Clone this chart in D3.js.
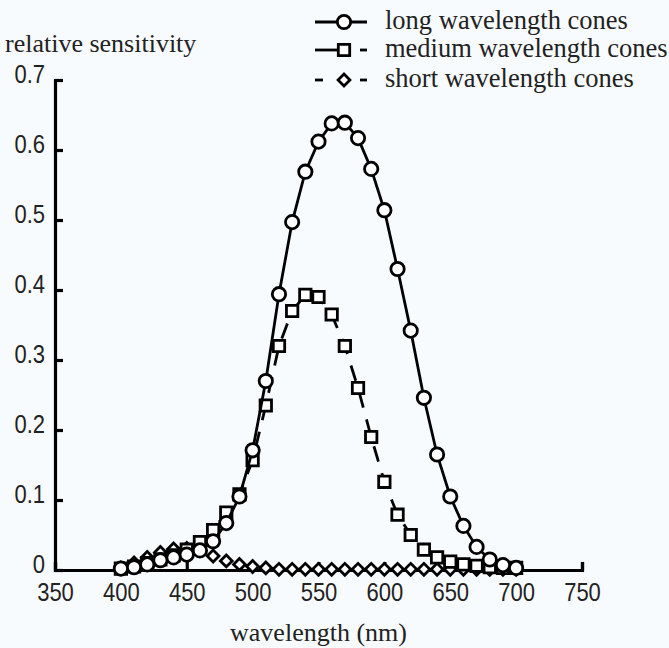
<!DOCTYPE html>
<html>
<head>
<meta charset="utf-8">
<script src="https://cdn.jsdelivr.net/npm/d3@7"></script>
<style>
  body { margin: 0; background: #f8fbfe; }
  svg { display: block; }
</style>
</head>
<body>
<div id="chart"></div>
<script>
// wavelengths (nm), one point every 10 nm
const wavelengths = [400, 410, 420, 430, 440, 450, 460, 470, 480, 490, 500,
                     510, 520, 530, 540, 550, 560, 570, 580, 590, 600,
                     610, 620, 630, 640, 650, 660, 670, 680, 690, 700];

const longCones = [0.002, 0.004, 0.008, 0.014, 0.018, 0.022, 0.028, 0.041, 0.067, 0.105, 0.171,
                   0.27, 0.394, 0.497, 0.569, 0.612, 0.638, 0.639, 0.617, 0.573, 0.514,
                   0.43, 0.342, 0.246, 0.165, 0.105, 0.063, 0.033, 0.015, 0.007, 0.003];

const mediumCones = [0.002, 0.005, 0.01, 0.015, 0.021, 0.029, 0.04, 0.057, 0.082, 0.108, 0.157,
                     0.235, 0.32, 0.37, 0.393, 0.39, 0.365, 0.32, 0.26, 0.19, 0.126,
                     0.079, 0.05, 0.029, 0.018, 0.012, 0.008, 0.006, 0.004, 0.003, 0.003];

const shortCones = [0.003, 0.01, 0.018, 0.025, 0.03, 0.031, 0.028, 0.02, 0.013, 0.008, 0.005,
                    0.003, 0.001, 0.001, 0.001, 0.001, 0.001, 0.001, 0.001, 0.001, 0.001,
                    0.001, 0.001, 0.001, 0.001, 0.001, 0.001, 0.001, 0.001, 0.001, 0.001];

const xTicks = [350, 400, 450, 500, 550, 600, 650, 700, 750];
const yTicks = [0, 0.1, 0.2, 0.3, 0.4, 0.5, 0.6, 0.7];

const seriesNames = ["long wavelength cones", "medium wavelength cones", "short wavelength cones"];

const width = 669;
const height = 648;
const sx = 0.88; // tick digits are a bit narrow in the original

let svg = d3.select("#chart")
            .append("svg")
            .attr("width", width)
            .attr("height", height);

svg.append("rect")
    .attr("width", width)
    .attr("height", height)
    .attr("fill", "#f8fbfe");

let xScale = d3.scaleLinear()
            .domain([350, 750])
            .range([55, 582]);

let yScale = d3.scaleLinear()
            .domain([0, 0.7])
            .range([570, 80]);

// axes
let xAxis = svg.append("g")
    .attr("transform", "translate(0," + yScale(0) + ")")
    .call(d3.axisBottom(xScale)
        .tickValues(xTicks)
        .tickSizeInner(-8)
        .tickSizeOuter(-8)
        .tickPadding(13)
        .tickFormat(d3.format("d")));

let yAxis = svg.append("g")
    .attr("transform", "translate(" + xScale(350) + ",0)")
    .call(d3.axisLeft(yScale)
        .tickValues(yTicks)
        .tickSizeInner(-8)
        .tickSizeOuter(-8)
        .tickPadding(10)
        .tickFormat(function(d) { return d === 0 ? "0" : d3.format(".1f")(d); }));

svg.selectAll(".domain, .tick line")
    .style("stroke", "#000")
    .style("stroke-width", 3.2);

svg.selectAll(".tick text")
    .style("font-family", "'Liberation Sans', Arial, sans-serif")
    .style("font-size", "25px")
    .style("fill", "#222")
    .attr("transform", "scale(" + sx + ",1)");

yAxis.selectAll(".tick text")
    .attr("x", -10 / sx)
    .attr("y", -6);

// series
const series = [
    {name: seriesNames[0], values: longCones, shape: "circle", dash: null},
    {name: seriesNames[1], values: mediumCones, shape: "square", dash: "16,12"},
    {name: seriesNames[2], values: shortCones, shape: "diamond", dash: "6,6"}
];

function symbolPath(shape) {
    if (shape === "circle") return d3.symbol(d3.symbolCircle, 140)();
    if (shape === "square") return d3.symbol(d3.symbolSquare, 130)();
    return d3.symbol(d3.symbolSquare, 70)();
}

let line = d3.line()
    .x(function(d) { return xScale(d.x); })
    .y(function(d) { return yScale(d.y); });

// draw short first, then medium, then long on top
[series[2], series[1], series[0]].forEach(function(s) {
    let pts = wavelengths.map(function(w, i) { return {x: w, y: s.values[i]}; });
    let g = svg.append("g");
    g.append("path")
        .datum(pts)
        .attr("d", line)
        .attr("fill", "none")
        .attr("stroke", "#000")
        .attr("stroke-width", 2.8)
        .attr("stroke-dasharray", s.dash);
    g.selectAll("path.mark")
        .data(pts)
        .enter()
        .append("path")
        .attr("class", "mark")
        .attr("d", symbolPath(s.shape))
        .attr("transform", function(d) {
            return "translate(" + xScale(d.x) + "," + yScale(d.y) + ")" + (s.shape === "diamond" ? " rotate(45)" : "");
        })
        .attr("fill", "#fff")
        .attr("stroke", "#000")
        .attr("stroke-width", 2.8);
});

// legend
const legendY = [22, 50, 80];
let legend = svg.append("g");
series.forEach(function(s, i) {
    let row = legend.append("g").attr("transform", "translate(0," + legendY[i] + ")");
    if (i === 0) {
        row.append("line").attr("x1", 315).attr("x2", 367);
    } else if (i === 1) {
        row.append("line").attr("x1", 315).attr("x2", 338);
        row.append("line").attr("x1", 360).attr("x2", 367);
    } else {
        row.append("line").attr("x1", 315).attr("x2", 323);
        row.append("line").attr("x1", 360).attr("x2", 367);
    }
    row.selectAll("line")
        .attr("stroke", "#000")
        .attr("stroke-width", 2.8);
    row.append("path")
        .attr("d", symbolPath(s.shape))
        .attr("transform", "translate(344,0)" + (s.shape === "diamond" ? " rotate(45)" : ""))
        .attr("fill", "#fff")
        .attr("stroke", "#000")
        .attr("stroke-width", 2.8);
    row.append("text")
        .attr("x", 385)
        .attr("y", 7)
        .style("font-family", "'Liberation Serif', 'Times New Roman', serif")
        .style("font-size", "26.5px")
        .style("fill", "#222")
        .text(s.name);
});

// axis titles
svg.append("text")
    .attr("x", 5)
    .attr("y", 52)
    .style("font-family", "'Liberation Serif', 'Times New Roman', serif")
    .style("font-size", "26px")
    .style("fill", "#222")
    .text("relative sensitivity");

svg.append("text")
    .attr("x", xScale(550))
    .attr("y", 641)
    .attr("text-anchor", "middle")
    .style("font-family", "'Liberation Serif', 'Times New Roman', serif")
    .style("font-size", "26px")
    .style("fill", "#222")
    .text("wavelength (nm)");
</script>
</body>
</html>
